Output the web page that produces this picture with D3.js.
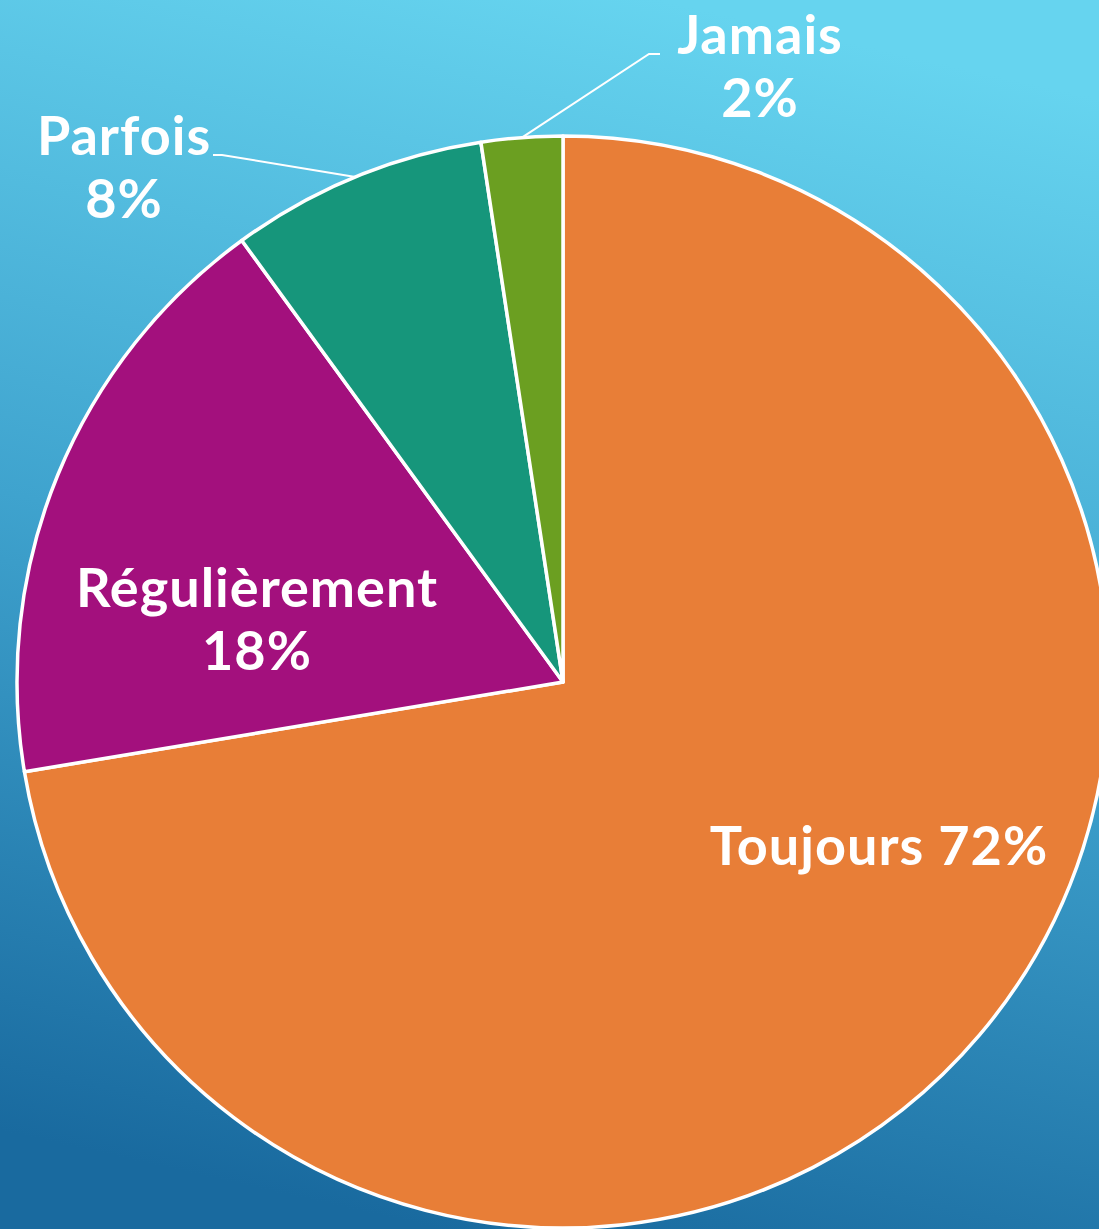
<!doctype html>
<html lang="fr">
<head>
<meta charset="UTF-8">
<title>Pie</title>
<script src="https://cdn.jsdelivr.net/npm/d3@7"></script>
<style>
	html, body { margin: 0; padding: 0; }
	svg { display: block; }
</style>
</head>
<body>
<div id="container"></div>
<script>
	var width = 1099, height = 1229;

	// data (share of answers, %)
	var categories = ["Toujours", "Régulièrement", "Parfois", "Jamais"];
	var values = [72.3, 17.6, 7.6, 2.4];
	var colors = ["#E87E37", "#A3107D", "#16967B", "#6B9F21"];

	// label placement, relative to the pie centre
	var labelLayout = {
		"Toujours":      { dx: 316,  dy: 183,  inline: true },
		"Régulièrement": { dx: -306, dy: -75 },
		"Parfois":       { dx: -439, dy: -527, elbow: [-341, -527], leader: true },
		"Jamais":        { dx: 197,  dy: -628, elbow: [86, -628], leader: true }
	};

	var cx = 563, cy = 682, radius = 546;

	var svg = d3.select("#container")
			.append("svg")
			.attr("width", width)
			.attr("height", height);

	var defs = svg.append("defs");
	var grad = defs.append("linearGradient")
			.attr("id", "bg")
			.attr("x1", "60%").attr("y1", "0%")
			.attr("x2", "40%").attr("y2", "100%");
	grad.append("stop").attr("offset", "0%").attr("stop-color", "#66D4EF");
	grad.append("stop").attr("offset", "50%").attr("stop-color", "#3FA3CE");
	grad.append("stop").attr("offset", "100%").attr("stop-color", "#196A9F");

	svg.append("rect")
			.attr("width", width)
			.attr("height", height)
			.attr("fill", "url(#bg)");

	var data = categories.map(function (c, i) {
		return { name: c, value: values[i], color: colors[i] };
	});
	var total = d3.sum(values);

	var pie = d3.pie()
			.sort(null)
			.value(function (d) { return d.value; });

	var arc = d3.arc()
			.innerRadius(0)
			.outerRadius(radius);

	var edge = d3.arc()
			.innerRadius(radius)
			.outerRadius(radius);

	var g = svg.append("g")
			.attr("transform", "translate(" + cx + "," + cy + ")");

	var arcs = pie(data);

	g.selectAll("path.slice")
			.data(arcs)
			.enter()
			.append("path")
			.attr("class", "slice")
			.attr("d", arc)
			.attr("fill", function (d) { return d.data.color; })
			.attr("stroke", "#fff")
			.attr("stroke-width", 3.5)
			.attr("stroke-linejoin", "round");

	// leader lines for the small slices
	g.selectAll("polyline.leader")
			.data(arcs.filter(function (d) { return labelLayout[d.data.name].leader; }))
			.enter()
			.append("polyline")
			.attr("class", "leader")
			.attr("fill", "none")
			.attr("stroke", "#fff")
			.attr("stroke-width", 2)
			.attr("points", function (d) {
				var L = labelLayout[d.data.name];
				var p0 = edge.centroid(d);
				var end = L.dx < 0 ? L.elbow[0] - 9 : L.elbow[0] + 11;
				return [p0, L.elbow, [end, L.elbow[1]]].map(function (p) { return p.join(","); }).join(" ");
			});

	var pct = function (d) { return Math.round(d.data.value / total * 100) + "%"; };

	var labels = g.selectAll("text.label")
			.data(arcs)
			.enter()
			.append("text")
			.attr("class", "label")
			.attr("text-anchor", "middle")
			.attr("fill", "#fff")
			.style("font-family", "Lato, 'Noto Sans', sans-serif")
			.style("font-weight", 700)
			.style("font-size", "54px")
			.style("letter-spacing", "1px")
			.attr("transform", function (d) {
				var L = labelLayout[d.data.name];
				return "translate(" + L.dx + "," + L.dy + ")";
			});

	labels.each(function (d) {
		var t = d3.select(this);
		if (labelLayout[d.data.name].inline) {
			t.append("tspan").attr("x", 0).attr("y", 0).text(d.data.name + " " + pct(d));
		} else {
			t.append("tspan").attr("x", 0).attr("y", 0).text(d.data.name);
			t.append("tspan").attr("x", 0).attr("y", 63).text(pct(d));
		}
	});
</script>
</body>
</html>
